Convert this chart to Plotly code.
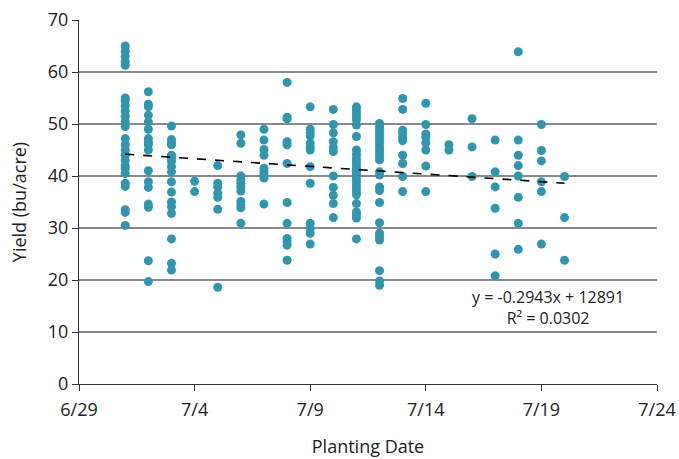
import datetime as dt
import plotly.graph_objects as go

# Planting dates (2019) and the yields observed on each date (bu/acre)
planting_dates = ["2019-07-01", "2019-07-02", "2019-07-03", "2019-07-04", "2019-07-05",
                  "2019-07-06", "2019-07-07", "2019-07-08", "2019-07-09", "2019-07-10",
                  "2019-07-11", "2019-07-12", "2019-07-13", "2019-07-14", "2019-07-15",
                  "2019-07-16", "2019-07-17", "2019-07-18", "2019-07-19", "2019-07-20"]

yield_jul01 = [65, 64, 63, 62, 61.3, 55, 54.5, 53.5, 52.5, 51.5, 50.5, 49.5, 47.2, 46, 45,
               44, 43, 42, 41.5, 40.5, 38.6, 38, 33.5, 33, 30.5]
yield_jul02 = [56.2, 53.8, 53.3, 51.7, 50.4, 49, 47.2, 46.5, 46, 45, 41, 38.9, 37.8, 34.6,
               34, 23.7, 19.7]
yield_jul03 = [49.6, 47, 46.3, 46, 44, 43.4, 42.8, 41.8, 40.8, 38.9, 36.9, 35, 34.1, 32.8,
               27.9, 23.2, 21.9]
yield_jul04 = [39, 37]
yield_jul05 = [42, 38.6, 37.9, 36.7, 35.9, 33.6, 18.6]
yield_jul06 = [47.9, 46.3, 40, 39.2, 38.6, 37.9, 37.1, 35.1, 34.4, 33.9, 30.9]
yield_jul07 = [49, 46.9, 45.1, 44, 41.5, 40.8, 40.2, 39.6, 34.6]
yield_jul08 = [58, 51.3, 51, 46.6, 46, 42.4, 34.9, 30.9, 28, 27.4, 26.7, 23.8]
yield_jul09 = [53.3, 49, 48.3, 47.7, 46.3, 45.6, 45, 41.8, 38.6, 30.9, 29.9, 29, 26.9]
yield_jul10 = [52.8, 49.9, 48.3, 46.6, 45.5, 44.7, 40, 37.8, 36.3, 34.7, 32]
yield_jul11 = [53.3, 52.7, 52.1, 51.4, 50.8, 49.8, 47.6, 45, 44.2, 43.4, 42.8, 42.2, 41.5,
               40.9, 40.3, 39.6, 39, 38.3, 37.7, 37, 36.4, 34.7, 33.1, 32.5, 31.9, 27.9]
yield_jul12 = [50.1, 49.5, 48.9, 48.2, 47.6, 46.9, 46.3, 45.6, 45, 44.4, 43.7, 43.1, 40.8,
               40.2, 37.9, 37.2, 34.9, 31, 29, 28.3, 27.7, 21.8, 19.8, 19]
yield_jul13 = [54.9, 52.8, 48.8, 48.2, 47.4, 46.8, 44, 42.4, 39.9, 37]
yield_jul14 = [54, 49.9, 48.1, 47.4, 46.4, 45, 41.9, 37]
yield_jul15 = [46, 45]
yield_jul16 = [51, 45.6, 39.9]
yield_jul17 = [46.9, 40.8, 37.9, 33.8, 25, 20.8]
yield_jul18 = [63.9, 46.9, 44, 42, 40, 35.9, 30.9, 25.9]
yield_jul19 = [49.9, 44.9, 42.9, 38.9, 37, 26.9]
yield_jul20 = [39.9, 32, 23.8]

yields_by_date = [yield_jul01, yield_jul02, yield_jul03, yield_jul04, yield_jul05,
                  yield_jul06, yield_jul07, yield_jul08, yield_jul09, yield_jul10,
                  yield_jul11, yield_jul12, yield_jul13, yield_jul14, yield_jul15,
                  yield_jul16, yield_jul17, yield_jul18, yield_jul19, yield_jul20]

# Linear trend: reported slope (bu/acre per day) and the fitted value on the first date
trend_slope = -0.2943
trend_start_value = 44.2
trend_label = "y = -0.2943x + 12891<br>R² = 0.0302"

# Flatten to point lists
x_pts, y_pts = [], []
for d, ys in zip(planting_dates, yields_by_date):
    x_pts += [d] * len(ys)
    y_pts += ys

# Trend line across the planting window
span_days = (dt.date.fromisoformat(planting_dates[-1]) -
             dt.date.fromisoformat(planting_dates[0])).days
trend_x = [planting_dates[0], planting_dates[-1]]
trend_y = [trend_start_value, trend_start_value + trend_slope * span_days]

FONT = "'Open Sans', sans-serif"
TEXT = "#222222"

fig = go.Figure()
fig.add_trace(go.Scatter(
    x=x_pts, y=y_pts, mode="markers",
    marker=dict(color="#2f96ae", size=9, line=dict(width=0)),
    showlegend=False,
))
fig.add_trace(go.Scatter(
    x=trend_x, y=trend_y, mode="lines",
    line=dict(color="black", width=1.6, dash="dash"),
    showlegend=False,
))

fig.add_annotation(
    x=0.811, y=0.21, xref="paper", yref="paper",
    xanchor="center", yanchor="middle",
    text=trend_label, showarrow=False, align="center",
    font=dict(family=FONT, size=16, color=TEXT),
)

fig.update_layout(
    width=679, height=459,
    margin=dict(l=79, r=22, t=20, b=75),
    plot_bgcolor="white", paper_bgcolor="white",
    font=dict(family=FONT, size=18, color=TEXT),
    xaxis=dict(
        type="date",
        range=["2019-06-29", "2019-07-24"],
        tick0="2019-06-29", dtick=5 * 86400000,
        tickformat="%-m/%-d",
        showgrid=False, zeroline=False,
        showline=True, linecolor="#333", linewidth=1,
        ticks="outside", ticklen=6, tickcolor="#333",
        ticklabelstandoff=3,
        automargin=False,
        title=dict(text="Planting Date", font=dict(size=18), standoff=20),
        tickfont=dict(size=18),
    ),
    yaxis=dict(
        range=[0, 70], dtick=10,
        showgrid=True, gridcolor="#8a8a8a", gridwidth=1.5,
        zeroline=False,
        showline=True, linecolor="#333", linewidth=1,
        ticks="outside", ticklen=6, tickcolor="#333",
        automargin=False,
        title=dict(text="Yield (bu/acre)", font=dict(size=18), standoff=16),
        tickfont=dict(size=18),
    ),
)

fig.write_html("out.html")
